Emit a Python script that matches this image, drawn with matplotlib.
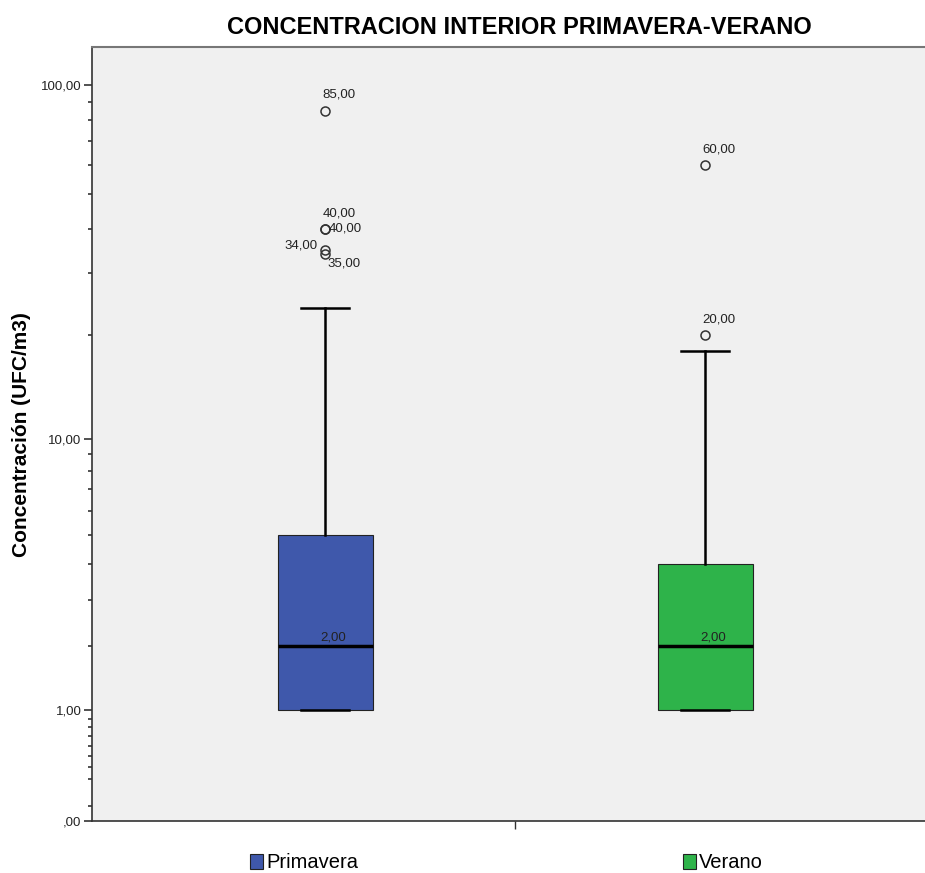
import matplotlib.pyplot as plt
import numpy as np

plt.rcParams['font.family'] = ['Liberation Sans', 'DejaVu Sans']

# Datos (UFC/m3)
grupos = ["Primavera", "Verano"]
colores = ["#3F58AB", "#2EB34A"]
q1 = [1.0, 1.0]
medianas = [2.0, 2.0]
q3 = [5.0, 4.0]
bigote_inf = [1.0, 1.0]
bigote_sup = [24.0, 18.0]
atipicos = [[85.0, 40.0, 40.0, 35.0, 34.0], [60.0, 20.0]]
# desplazamiento de las etiquetas de los atipicos (puntos)
pos_etiquetas = [[(-2, 7), (-2, 7), (3, 0), (2, -10), (-29, 2)], [(-2, 7), (-2, 7)]]


def fwd(x):
    return np.log10(1 + np.clip(x, -0.999, None))


def inv(y):
    return 10 ** y - 1


def fmt(v):
    return ("%.2f" % v).replace(".", ",") if v >= 1 else ",00"


fig = plt.figure(figsize=(9.25, 8.73), dpi=100)
ax = fig.add_axes([92 / 925, 52 / 873, 1 - 92 / 925, (821 - 47) / 873])
ax.set_facecolor("#F0F0F0")
ax.set_yscale("function", functions=(fwd, inv))

stats = []
for i in range(len(grupos)):
    stats.append({"med": medianas[i], "q1": q1[i], "q3": q3[i],
                  "whislo": bigote_inf[i], "whishi": bigote_sup[i],
                  "fliers": atipicos[i], "label": grupos[i]})

bp = ax.bxp(stats, positions=[1, 2], widths=0.25, patch_artist=True,
            capwidths=0.125,
            boxprops=dict(linewidth=0.8, edgecolor="#222222"),
            medianprops=dict(color="black", linewidth=2.5),
            whiskerprops=dict(color="black", linewidth=1.8),
            capprops=dict(color="black", linewidth=1.8),
            flierprops=dict(marker="o", markersize=6.5, markerfacecolor="none",
                            markeredgecolor="#333333", markeredgewidth=1.1))
for patch, c in zip(bp["boxes"], colores):
    patch.set_facecolor(c)

# etiquetas de atipicos y medianas
for i in range(len(grupos)):
    for v, off in zip(atipicos[i], pos_etiquetas[i]):
        ax.annotate(fmt(v), (i + 1, v), xytext=off, textcoords="offset points",
                    fontsize=9.5, color="#222222", va="bottom" if off[1] > 0 else "center")
    ax.annotate(fmt(medianas[i]), (i + 1, medianas[i]), xytext=(6, 2),
                textcoords="offset points", fontsize=9.5, color="#222222",
                ha="center", va="bottom")

ax.set_xlim(1 - 233 / 380, 2 + 220 / 380)
ax.set_ylim(0, 127.2)
ax.set_xticks([1.5])
ax.set_xticklabels([""])

ax.set_yticks([0, 1, 10, 100])
ax.set_yticklabels([fmt(v) for v in [0, 1, 10, 100]], fontsize=9.5, color="#222222")
menores = [0.1, 0.3, 0.4, 0.5, 0.6, 0.7, 0.8, 0.9] + list(range(2, 10)) + list(range(20, 100, 10))
ax.set_yticks(menores, minor=True)
ax.tick_params(axis="y", which="major", length=5.5, width=1.2, color="#333333", pad=2)
ax.tick_params(axis="y", which="minor", length=3, width=1.2, color="#333333")
ax.tick_params(axis="x", length=6, width=1.0, color="#333333")

for s in ["left", "bottom"]:
    ax.spines[s].set_color("#333333")
    ax.spines[s].set_linewidth(1.2)
ax.spines["top"].set_color("#777777")
ax.spines["top"].set_linewidth(1.5)
ax.spines["right"].set_visible(False)

fig.text(22 / 925, 1 - 435 / 873, "Concentración (UFC/m3)", rotation=90,
         ha="center", va="center", fontsize=15, fontweight="bold")
fig.text(519 / 925, 1 - 27 / 873, "CONCENTRACION INTERIOR PRIMAVERA-VERANO",
         ha="center", va="center", fontsize=17, fontweight="bold")

# leyenda inferior
for i, (g, c) in enumerate(zip(grupos, colores)):
    x0 = [250, 683][i] / 925
    fig.patches.append(plt.Rectangle((x0, 1 - 869 / 873), 13 / 925, 15 / 873,
                                     transform=fig.transFigure, facecolor=c,
                                     edgecolor="#222222", linewidth=0.8))
    fig.text(x0 + 16 / 925, 1 - 862 / 873, g, ha="left", va="center", fontsize=14.5)

fig.savefig("out.png", dpi=100)
